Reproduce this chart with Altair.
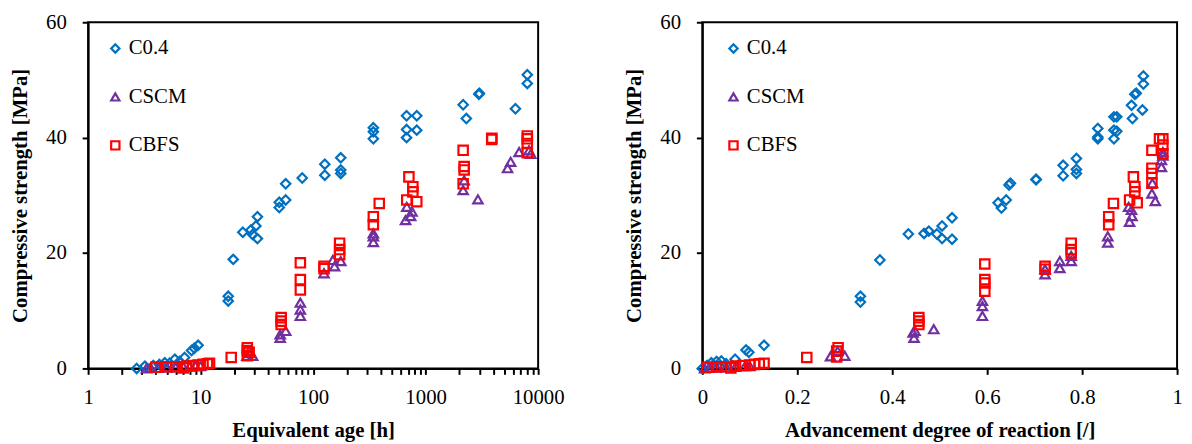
import altair as alt
import pandas as pd

SERIES = ["C0.4", "CSCM", "CBFS"]
COLORS = ["#0070C0", "#7030A0", "#FF0000"]
SHAPES = ["diamond", "triangle-up", "square"]

# ---------- Left panel: equivalent age [h] ----------
age_c04_x = [2.7, 3.2, 3.8, 4.3, 4.8, 5.3, 5.9, 6.5, 7.2, 8.3, 8.8, 9.5,
             17.6, 17.6, 19.5, 23.7, 28, 29, 31, 32, 32,
             50, 50, 57, 57, 80, 127, 127, 176, 176, 176,
             343, 343, 343, 677, 677, 677, 834, 834, 2155, 2300, 2976, 3000, 6285, 8011, 8011]
age_c04_y = [0.0, 0.4, 0.5, 0.7, 1.0, 0.9, 1.6, 1.2, 1.9, 3.1, 3.5, 4.0,
             12.5, 11.7, 18.9, 23.6, 24.0, 23.2, 24.7, 22.5, 26.3,
             28.8, 27.9, 29.2, 32.0, 33.0, 35.4, 33.5, 36.5, 34.4, 33.8,
             41.7, 41.0, 39.8, 43.8, 41.4, 40.0, 43.8, 41.3, 45.7, 43.3, 47.5, 47.7, 45.0, 50.9, 49.4]

age_cscm_x = [3.3, 3.6, 4.2, 5.0, 6.0, 7.0, 8.0, 9.0, 10.0,
              25.8, 27, 29, 51, 51, 57, 77, 77, 77,
              125, 150, 155, 176, 343, 343, 343,
              663, 735, 756, 680, 2155, 2200, 2917, 5348, 5700, 6770, 8600, 8300]
age_cscm_y = [0.0, 0.1, 0.1, 0.2, 0.2, 0.3, 0.3, 0.4, 0.4,
              2.2, 3.0, 2.2, 5.3, 5.9, 6.5, 9.1, 11.4, 10.2,
              16.5, 18.8, 17.7, 18.6, 21.9, 23.4, 22.9,
              25.7, 26.4, 27.2, 28.0, 30.9, 32.6, 29.3, 34.7, 35.8, 37.5, 37.2, 37.8]

age_cbfs_x = [4.0, 5.0, 6.0, 7.0, 7.5, 8.5, 9.5, 10.5, 11.5, 12.0,
              18.7, 26, 26, 26, 27, 52, 52, 52, 77, 77, 77,
              125, 125, 172, 172, 172, 343, 343, 387,
              710, 770, 680, 834, 770, 2155, 2200, 2200, 2155, 3870, 3870,
              8011, 8011, 8011, 8011]
age_cbfs_y = [0.2, 0.3, 0.3, 0.1, 0.4, 0.5, 0.6, 0.7, 0.8, 0.9,
              1.9, 3.1, 3.6, 2.2, 2.8, 8.8, 7.6, 8.2, 18.3, 15.4, 13.6,
              17.7, 17.3, 21.7, 20.6, 19.7, 26.3, 24.9, 28.6,
              33.2, 31.5, 29.2, 28.9, 30.6, 37.8, 34.4, 35.0, 32.0, 39.7, 39.9,
              40.3, 39.0, 37.4, 39.8]

# ---------- Right panel: advancement degree of reaction [/] ----------
adv_c04_x = [0.0, 0.01, 0.019, 0.03, 0.04, 0.05, 0.069, 0.092, 0.098, 0.13,
             0.333, 0.333, 0.374, 0.434, 0.467, 0.477, 0.494, 0.505, 0.505, 0.526, 0.526,
             0.623, 0.63, 0.64, 0.646, 0.649, 0.703, 0.703,
             0.76, 0.76, 0.788, 0.788, 0.788, 0.833, 0.833, 0.833,
             0.867, 0.873, 0.867, 0.873, 0.867, 0.904, 0.906, 0.911, 0.914, 0.927, 0.929, 0.929]
adv_c04_y = [0.0, 0.5, 1.0, 1.2, 1.3, 0.8, 1.6, 3.2, 2.8, 4.0,
             12.5, 11.5, 18.8, 23.3, 23.4, 23.8, 23.3, 24.7, 22.5, 26.1, 22.4,
             28.7, 27.8, 29.2, 31.8, 32.1, 32.8, 32.7,
             35.2, 33.4, 36.4, 34.5, 33.8, 41.6, 40.1, 39.8,
             43.6, 43.6, 41.3, 41.1, 39.8, 45.6, 43.3, 47.5, 47.7, 44.8, 50.7, 49.3]

adv_cscm_x = [0.005, 0.015, 0.03, 0.05, 0.07, 0.09, 0.1,
              0.27, 0.285, 0.30, 0.446, 0.444, 0.448, 0.4875,
              0.59, 0.59, 0.59, 0.722, 0.722, 0.753, 0.753, 0.777, 0.777,
              0.854, 0.854, 0.90, 0.904, 0.905, 0.898,
              0.947, 0.948, 0.954, 0.967, 0.967, 0.97, 0.97]
adv_cscm_y = [0.0, 0.1, 0.2, 0.2, 0.3, 0.4, 0.4,
              2.1, 3.0, 2.2, 5.3, 6.2, 6.5, 6.8,
              9.1, 10.8, 11.7, 16.3, 17.2, 17.4, 18.6, 18.6, 19.5,
              21.8, 22.9, 25.4, 27.5, 26.4, 28.0,
              30.3, 32.1, 29.0, 34.9, 36.1, 37.5, 36.9]

adv_cbfs_x = [0.01, 0.03, 0.04, 0.06, 0.07, 0.085, 0.1, 0.11, 0.12, 0.13,
              0.22, 0.283, 0.286, 0.283, 0.456, 0.456, 0.456,
              0.595, 0.595, 0.595, 0.595, 0.722, 0.722, 0.777, 0.777, 0.777,
              0.856, 0.856, 0.866, 0.908, 0.911, 0.90, 0.916, 0.911,
              0.947, 0.947, 0.947, 0.947, 0.963, 0.97, 0.97, 0.97]
adv_cbfs_y = [0.2, 0.3, 0.3, 0.1, 0.4, 0.5, 0.6, 0.7, 0.8, 0.9,
              1.9, 3.0, 3.6, 2.0, 8.8, 7.6, 8.2,
              18.1, 15.4, 13.4, 14.8, 17.7, 17.2, 21.7, 20.6, 20.0,
              26.3, 24.9, 28.6, 33.2, 31.5, 29.2, 28.7, 30.6,
              37.8, 34.7, 33.8, 32.1, 39.8, 39.8, 38.7, 37.2]

AGE_TICKS = [1, 10, 100, 1000, 10000]
AGE_MINOR = [m * d for d in [1, 10, 100, 1000] for m in range(1, 10)] + [10000]
ADV_TICKS = [0, 0.2, 0.4, 0.6, 0.8, 1]
Y_TICKS = [0, 20, 40, 60]


def make_df(triples):
    rows = []
    for name, xs, ys in triples:
        for xv, yv in zip(xs, ys):
            rows.append({"series": name, "x": xv, "y": yv})
    return pd.DataFrame(rows)


left_df = make_df([("C0.4", age_c04_x, age_c04_y),
                   ("CSCM", age_cscm_x, age_cscm_y),
                   ("CBFS", age_cbfs_x, age_cbfs_y)])
right_df = make_df([("C0.4", adv_c04_x, adv_c04_y),
                    ("CSCM", adv_cscm_x, adv_cscm_y),
                    ("CBFS", adv_cbfs_x, adv_cbfs_y)])

FONT = "Liberation Serif"


def legend(lx):
    return alt.Legend(title=None, orient="none", legendX=lx, legendY=16,
                      labelFont=FONT, labelFontSize=21, labelColor="#000",
                      symbolSize=70, symbolStrokeWidth=2.2, rowPadding=27,
                      labelOffset=3)


def yenc():
    return alt.Y("y:Q", scale=alt.Scale(domain=[0, 60], nice=False),
                 axis=alt.Axis(values=Y_TICKS, title="Compressive strength [MPa]",
                               labelPadding=16, titlePadding=15))


def panel(df, xenc, lx, w):
    return alt.Chart(df).mark_point(filled=False, strokeWidth=2.2, size=90, opacity=1).encode(
        x=xenc,
        y=yenc(),
        color=alt.Color("series:N", sort=SERIES,
                        scale=alt.Scale(domain=SERIES, range=COLORS), legend=legend(lx)),
        shape=alt.Shape("series:N", sort=SERIES,
                        scale=alt.Scale(domain=SERIES, range=SHAPES), legend=legend(lx)),
        order=alt.Order("order:Q"),
    ).transform_calculate(
        order="indexof(['C0.4','CSCM','CBFS'], datum.series)"
    ).properties(width=w, height=350)


left = panel(
    left_df,
    alt.X("x:Q", scale=alt.Scale(type="log", domain=[1, 10000], nice=False),
          axis=alt.Axis(values=AGE_MINOR, title="Equivalent age [h]",
                        labelExpr="indexof([1,10,100,1000,10000], datum.value) >= 0 ? format(datum.value, 'd') : ''",
                        labelPadding=12, titlePadding=13, labelFlush=False)),
    17, 455)

right = panel(
    right_df,
    alt.X("x:Q", scale=alt.Scale(domain=[0, 1], nice=False),
          axis=alt.Axis(values=ADV_TICKS, format="~g", title="Advancement degree of reaction [/]",
                        labelPadding=12, titlePadding=13, labelFlush=False)),
    21, 480)

chart = alt.hconcat(left, right, spacing=58, background="white",
                    padding={"top": 0, "left": 1, "right": 0, "bottom": 0}).resolve_scale(
    color="independent", shape="independent"
).configure_view(
    stroke="black", strokeWidth=2
).configure_axis(
    grid=False, domainColor="black", domainWidth=2, tickColor="black", tickWidth=2,
    tickSize=6, labelFont=FONT, labelFontSize=21, labelColor="#000",
    titleFont=FONT, titleFontSize=21, titleFontWeight="bold", titleColor="#000"
)

chart.save("out.html", embed_options={"renderer": "svg", "actions": False})
